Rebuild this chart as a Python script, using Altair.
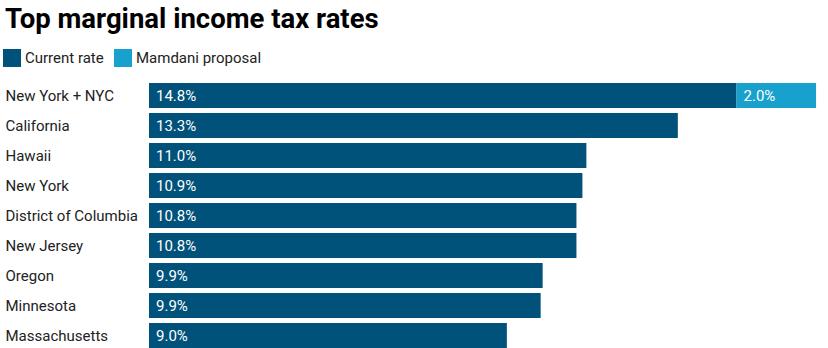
import altair as alt
import pandas as pd

states = ["New York + NYC", "California", "Hawaii", "New York", "District of Columbia",
          "New Jersey", "Oregon", "Minnesota", "Massachusetts"]
current = [14.776, 13.3, 11.0, 10.9, 10.75, 10.75, 9.9, 9.85, 9.0]
current_labels = ["14.8%", "13.3%", "11.0%", "10.9%", "10.8%", "10.8%", "9.9%", "9.9%", "9.0%"]
proposal_state = ["New York + NYC"]
proposal = [2.0]
proposal_labels = ["2.0%"]
series = ["Current rate", "Mamdani proposal"]
colors = ["#00527a", "#18a1cd"]

rows = []
for s, v, l in zip(states, current, current_labels):
    rows.append({"state": s, "series": series[0], "value": v, "label": l, "ord": 0})
for s, v, l in zip(proposal_state, proposal, proposal_labels):
    rows.append({"state": s, "series": series[1], "value": v, "label": l, "ord": 1})
df = pd.DataFrame(rows)

base = alt.Chart(df).transform_stack(
    stack="value", groupby=["state"], as_=["x0", "x1"], sort=[alt.SortField("ord")]
)

y_enc = alt.Y("state:N", sort=states, title=None,
              scale=alt.Scale(paddingInner=5/30, paddingOuter=5/60),
              axis=alt.Axis(domain=False, ticks=False, labelAlign="left", labelPadding=144,
                            labelFont="Roboto", labelFontSize=15, labelColor="#222222",
                            grid=False))

bars = base.mark_bar().encode(
    x=alt.X("x0:Q", scale=alt.Scale(domain=[0, 16.8], nice=False, zero=True), axis=None),
    x2="x1:Q",
    y=y_enc,
    color=alt.Color("series:N", scale=alt.Scale(domain=series, range=colors), title=None,
                    legend=alt.Legend(orient="none", legendX=-146, legendY=-31.5,
                                      direction="horizontal", symbolType="square",
                                      symbolSize=324, symbolStrokeWidth=0, symbolOpacity=1,
                                      labelFont="Roboto", labelFontSize=15, labelColor="#222222",
                                      labelOffset=4, columnPadding=10, padding=0)),
)

texts = base.mark_text(align="left", baseline="middle", dx=7, color="white",
                       font="Roboto", fontSize=15).encode(
    x=alt.X("x0:Q"),
    y=alt.Y("state:N", sort=states),
    text="label:N",
)

chart = (bars + texts).properties(
    width=668, height=270,
    autosize=alt.AutoSizeParams(type="none"),
    padding={"left": 149, "top": 80.5, "right": 11, "bottom": 0},
    title=alt.TitleParams("Top marginal income tax rates", anchor="start", frame="group",
                          dx=-144, dy=0, font="Roboto", fontSize=27.5, fontWeight="bold",
                          color="#000000", offset=16),
).configure_view(stroke=None)

chart.save("out.html", embed_options={"renderer": "svg", "actions": False})
